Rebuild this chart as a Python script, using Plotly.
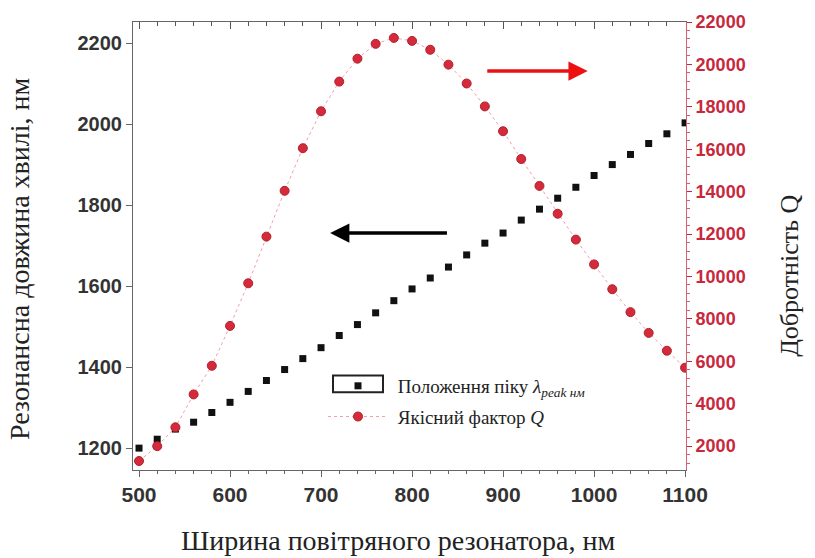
import plotly.graph_objects as go

width_nm = [500, 520, 540, 560, 580, 600, 620, 640, 660, 680, 700, 720, 740, 760, 780,
            800, 820, 840, 860, 880, 900, 920, 940, 960, 980, 1000, 1020, 1040, 1060, 1080, 1100]
peak_nm = [1200, 1222, 1247, 1264, 1288, 1313, 1340, 1367, 1394, 1421, 1448, 1478, 1505, 1534, 1564,
           1593, 1620, 1647, 1677, 1706, 1731, 1763, 1790, 1817, 1844, 1873, 1900, 1925, 1952, 1976, 2003]
q_factor = [1300, 2000, 2890, 4440, 5790, 7670, 9680, 11880, 14040, 16050, 17790, 19190, 20270, 20970, 21250,
            21110, 20690, 19990, 19100, 18020, 16850, 15540, 14270, 12960, 11740, 10570, 9400, 8320, 7340, 6500, 5700]

left_ticks = [1200, 1400, 1600, 1800, 2000, 2200]
right_ticks = [2000, 4000, 6000, 8000, 10000, 12000, 14000, 16000, 18000, 20000, 22000]
x_ticks = [500, 600, 700, 800, 900, 1000, 1100]

RED = "#d42a3a"
RED_TXT = "#c8283c"
SERIF = "Liberation Serif, Times New Roman, serif"
SANS = "Liberation Sans, Arial, sans-serif"

fig = go.Figure()
fig.add_trace(go.Scatter(
    x=width_nm, y=peak_nm, mode="markers",
    marker=dict(symbol="square", size=7, color="#111111"),
    name="\u00a0Положення піку <i>λ<sub>peak нм</sub></i>", xaxis="x", yaxis="y",
    legendgroup="a"))
fig.add_trace(go.Scatter(
    x=width_nm, y=q_factor, mode="lines+markers",
    line=dict(color="#f2a0a8", width=1, dash="dot"),
    marker=dict(symbol="circle", size=9, color=RED, line=dict(color="#b02030", width=1)),
    name="\u00a0Якісний фактор <i>Q</i>", xaxis="x", yaxis="y2", legendgroup="b"))
fig.add_trace(go.Scatter(x=[width_nm[0]], y=[None], xaxis="x2", yaxis="y",
                         showlegend=False, hoverinfo="skip"))

xr = [493.4, 1101]
L, R, T, B = 133, 686, 20, 470
PW, PH = R - L, B - T

fig.update_layout(
    width=815, height=558,
    margin=dict(l=L, r=815 - R, t=T, b=558 - B),
    paper_bgcolor="white", plot_bgcolor="white",
    showlegend=True,
    legend=dict(x=(323 - L) / PW, y=(B - 366.5) / PH, xanchor="left", yanchor="top",
                bgcolor="rgba(0,0,0,0)", font=dict(family=SERIF, size=19, color="#222"),
                itemwidth=60, traceorder="grouped", tracegroupgap=3),
    xaxis=dict(range=xr, tickvals=x_ticks, ticks="outside", ticklen=6, tickcolor="#666",
               minor=dict(dtick=20, ticks="outside", ticklen=3, tickcolor="#666"),
               showline=True, linecolor="#666", linewidth=1, showgrid=False, zeroline=False,
               tickfont=dict(family=SANS, size=21, color="#333", weight="bold")),
    xaxis2=dict(range=xr, overlaying="x", side="top", anchor="y", tickvals=x_ticks,
                ticks="inside", ticklen=7, tickcolor="#555",
                minor=dict(dtick=20, ticks="inside", ticklen=4, tickcolor="#555"),
                showline=True, linecolor="#666", linewidth=1, showgrid=False, zeroline=False,
                showticklabels=False),
    yaxis=dict(range=[1146, 2252], tickvals=left_ticks, ticks="outside", ticklen=6, tickcolor="#666",
               showline=True, linecolor="#666", linewidth=1, showgrid=False, zeroline=False,
               tickfont=dict(family=SANS, size=20, color="#333", weight="bold")),
    yaxis2=dict(range=[876, 22000], overlaying="y", side="right", anchor="x",
                tickvals=right_ticks, ticktext=[str(v) for v in right_ticks],
                ticks="outside", ticklen=5, tickcolor=RED_TXT,
                minor=dict(dtick=400, tick0=0, ticks="outside", ticklen=3, tickcolor="#d66070"),
                showline=True, linecolor="#d66070", linewidth=1, showgrid=False, zeroline=False,
                tickfont=dict(family=SANS, size=18, color=RED_TXT, weight="bold")),
)

# axis titles
fig.add_annotation(text="Ширина повітряного резонатора, нм", xref="paper", yref="paper",
                   x=(398 - L) / PW, y=(B - 541) / PH, xanchor="center", yanchor="middle",
                   showarrow=False, font=dict(family=SERIF, size=28, color="#222"))
fig.add_annotation(text="Резонансна довжина хвилі, нм", xref="paper", yref="paper",
                   x=(20 - L) / PW, y=(B - 258) / PH, xanchor="center", yanchor="middle",
                   textangle=-90, showarrow=False, font=dict(family=SERIF, size=28, color="#222"))
fig.add_annotation(text="Добротність Q", xref="paper", yref="paper",
                   x=(790 - L) / PW, y=(B - 275) / PH, xanchor="center", yanchor="middle",
                   textangle=-90, showarrow=False, font=dict(family=SERIF, size=26, color="#222"))

# arrows
fig.add_annotation(x=710, y=1731, ax=840, ay=1731, xref="x", yref="y", axref="x", ayref="y",
                   showarrow=True, arrowhead=2, arrowsize=1.1, arrowwidth=3.5, arrowcolor="#000", text="")
fig.add_annotation(x=993, y=2131, ax=881, ay=2131, xref="x", yref="y", axref="x", ayref="y",
                   showarrow=True, arrowhead=2, arrowsize=1.1, arrowwidth=3.5, arrowcolor="#ee1111", text="")

# frame around black legend symbol
fig.add_shape(type="rect", xref="paper", yref="paper",
              x0=(333 - L) / PW, x1=(383 - L) / PW,
              y0=(B - 392) / PH, y1=(B - 375) / PH,
              line=dict(color="#222", width=2))

fig.write_html("out.html")
